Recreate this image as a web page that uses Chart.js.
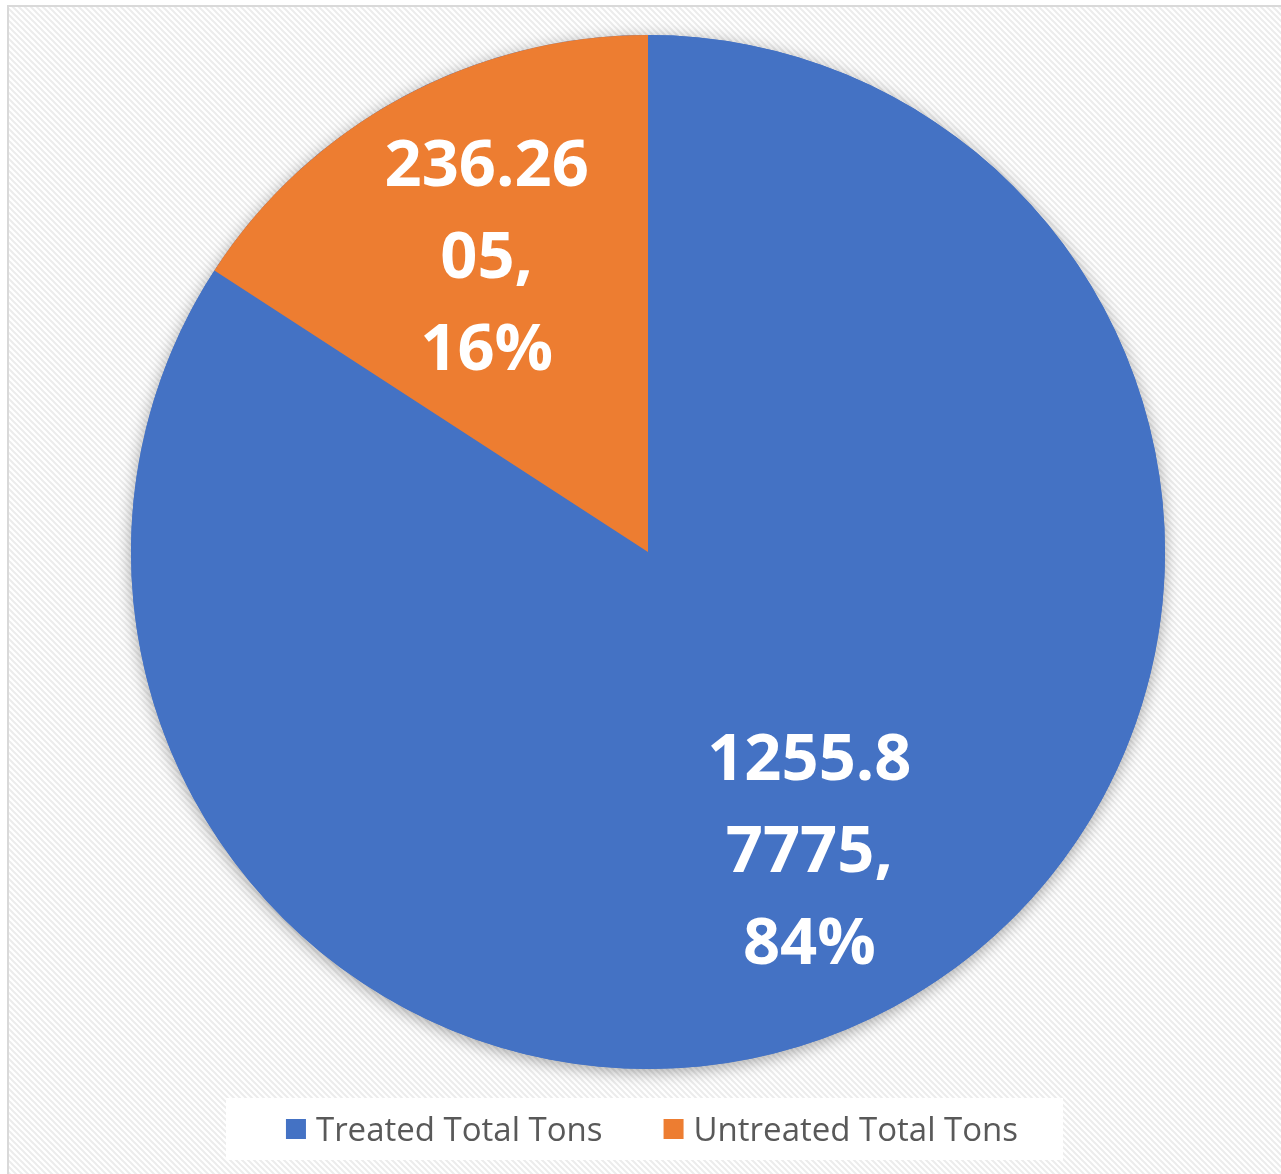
<!DOCTYPE html>
<html>
<head>
<meta charset="utf-8">
<script src="https://cdn.jsdelivr.net/npm/chart.js@4.4.0/dist/chart.umd.min.js"></script>
<style>
  html, body { margin: 0; padding: 0; background: #ffffff; }
  #wrap { width: 1281px; height: 1174px; position: relative; }
  canvas { display: block; }
</style>
</head>
<body>
<div id="wrap"><canvas id="c" width="1281" height="1174"></canvas></div>
<script>
// ---- Data ----
const categories = ['Treated Total Tons', 'Untreated Total Tons'];
const values = [1255.87775, 236.2605];
const valueText = ['1255.87775', '236.2605'];
const colors = ['#4472C4', '#ED7D31'];

// ---- Style constants ----
const LABEL_SIZE = 65;
const LABEL_FONT = 'bold ' + LABEL_SIZE + 'px "Open Sans", "DejaVu Sans", sans-serif';
const LABEL_LINE = 92;
const LABEL_CHUNK = 6;
const LEGEND_SIZE = 33;
const LEGEND_FONT = LEGEND_SIZE + 'px "Open Sans", "DejaVu Sans", sans-serif';

function makePattern(ctx) {
  const t = document.createElement('canvas');
  t.width = 6; t.height = 6;
  const g = t.getContext('2d');
  g.fillStyle = '#ffffff';
  g.fillRect(0, 0, 6, 6);
  g.strokeStyle = '#ececec';
  g.lineWidth = 2;
  g.beginPath();
  g.moveTo(-3, -3); g.lineTo(9, 9);
  g.moveTo(-3, 3); g.lineTo(3, 9);
  g.moveTo(3, -3); g.lineTo(9, 3);
  g.stroke();
  return ctx.createPattern(t, 'repeat');
}

const backgroundPlugin = {
  id: 'bg',
  beforeDraw(chart) {
    const ctx = chart.ctx;
    ctx.save();
    ctx.fillStyle = '#ffffff';
    ctx.fillRect(0, 0, chart.width, chart.height);
    ctx.fillStyle = makePattern(ctx);
    ctx.fillRect(8, 6, chart.width, chart.height);
    ctx.strokeStyle = '#d9d9d9';
    ctx.lineWidth = 2;
    ctx.strokeRect(8, 6, chart.width + 20, chart.height + 20);
    ctx.restore();
  }
};

const shadowPlugin = {
  id: 'pieShadow',
  beforeDatasetsDraw(chart) {
    const arc = chart.getDatasetMeta(0).data[0];
    if (!arc) return;
    const ctx = chart.ctx;
    ctx.save();
    ctx.shadowColor = 'rgba(0,0,0,0.35)';
    ctx.shadowBlur = 16;
    ctx.shadowOffsetY = 3;
    ctx.fillStyle = colors[0];
    ctx.beginPath();
    ctx.arc(arc.x, arc.y, arc.outerRadius, 0, Math.PI * 2);
    ctx.fill();
    ctx.restore();
  }
};

function labelLines(i, total) {
  const s = valueText[i];
  const lines = [];
  for (let k = 0; k < s.length; k += LABEL_CHUNK) lines.push(s.slice(k, k + LABEL_CHUNK));
  lines[lines.length - 1] += ',';
  lines.push(Math.round(values[i] / total * 100) + '%');
  return lines;
}

const labelPlugin = {
  id: 'sliceLabels',
  afterDatasetsDraw(chart) {
    const ctx = chart.ctx;
    const meta = chart.getDatasetMeta(0);
    const total = values.reduce((a, b) => a + b, 0);
    ctx.save();
    ctx.font = LABEL_FONT;
    ctx.fillStyle = '#ffffff';
    ctx.textAlign = 'center';
    ctx.textBaseline = 'alphabetic';
    meta.data.forEach((arc, i) => {
      const p = arc.getProps(['x', 'y', 'startAngle', 'endAngle', 'outerRadius'], true);
      const mid = (p.startAngle + p.endAngle) / 2;
      const r = p.outerRadius * 0.654;
      const cx = p.x + Math.cos(mid) * r;
      const cy = p.y + Math.sin(mid) * r;
      const lines = labelLines(i, total);
      const capHalf = 0.357 * LABEL_SIZE;
      const first = cy - (lines.length - 1) / 2 * LABEL_LINE;
      lines.forEach((ln, k) => ctx.fillText(ln, cx, first + k * LABEL_LINE + capHalf));
    });
    ctx.restore();
  }
};

const legendPlugin = {
  id: 'customLegend',
  afterDraw(chart) {
    const ctx = chart.ctx;
    const area = chart.chartArea;
    const box = 20, gap = 10, itemGap = 61;
    ctx.save();
    ctx.font = LEGEND_FONT;
    const widths = categories.map(c => ctx.measureText(c).width);
    let total = 0;
    widths.forEach((w, i) => { total += box + gap + w + (i < widths.length - 1 ? itemGap : 0); });
    const cx = (area.left + area.right) / 2 + 4;
    const cy = area.bottom + 25;
    ctx.fillStyle = '#ffffff';
    ctx.fillRect(cx - total / 2 - 60, cy - 31, total + 105, 62);
    let x = cx - total / 2;
    categories.forEach((c, i) => {
      ctx.fillStyle = colors[i];
      ctx.fillRect(x, cy - box / 2, box, box);
      ctx.fillStyle = '#595959';
      ctx.textBaseline = 'alphabetic';
      ctx.textAlign = 'left';
      ctx.fillText(c, x + box + gap, cy + 0.357 * LEGEND_SIZE);
      x += box + gap + widths[i] + itemGap;
    });
    ctx.restore();
  }
};

new Chart(document.getElementById('c'), {
  type: 'pie',
  data: {
    labels: categories,
    datasets: [{
      data: values,
      backgroundColor: colors,
      borderWidth: 0,
      hoverOffset: 0
    }]
  },
  options: {
    responsive: false,
    animation: false,
    devicePixelRatio: 1,
    layout: { padding: { left: 131, right: 116, top: 0, bottom: 70 } },
    plugins: {
      legend: { display: false },
      tooltip: { enabled: false }
    }
  },
  plugins: [backgroundPlugin, shadowPlugin, labelPlugin, legendPlugin]
});
</script>
</body>
</html>
